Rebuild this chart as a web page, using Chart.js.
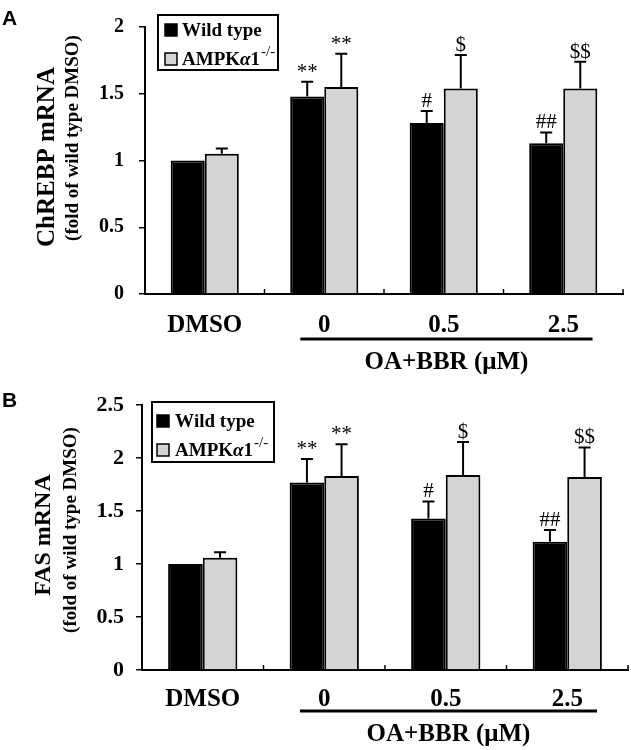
<!DOCTYPE html>
<html>
<head>
<meta charset="utf-8">
<script src="https://cdn.jsdelivr.net/npm/chart.js@4.4.1/dist/chart.umd.min.js"></script>
<style>
  html, body { margin: 0; padding: 0; background: #fff; }
  .panel { position: absolute; left: 0; width: 631px; height: 375px; }
</style>
</head>
<body>
<div class="panel" style="top:0"><canvas id="chartA" width="631" height="375"></canvas></div>
<div class="panel" style="top:375px"><canvas id="chartB" width="631" height="375"></canvas></div>
<script>
const categories = ['DMSO', '0', '0.5', '2.5'];
const groupLabels = ['Wild type', 'AMPKα1'];
const groupSuperscripts = ['', '-/-'];
const groupColors = ['#000000', '#d4d4d4'];

// panel A: ChREBP
const chrebpTicks = [0, 0.5, 1, 1.5, 2];
const chrebpWildType = [1.0, 1.48, 1.28, 1.13];
const chrebpWildTypeErr = [0, 0.11, 0.09, 0.08];
const chrebpKnockout = [1.05, 1.55, 1.54, 1.54];
const chrebpKnockoutErr = [0.04, 0.25, 0.25, 0.2];
const chrebpWildTypeMarks = ['', '**', '#', '##'];
const chrebpKnockoutMarks = ['', '**', '$', '$$'];

// panel B: FAS
const fasTicks = [0, 0.5, 1, 1.5, 2, 2.5];
const fasWildType = [1.0, 1.77, 1.43, 1.21];
const fasWildTypeErr = [0, 0.22, 0.16, 0.11];
const fasKnockout = [1.06, 1.83, 1.84, 1.82];
const fasKnockoutErr = [0.05, 0.3, 0.31, 0.28];
const fasWildTypeMarks = ['', '**', '#', '##'];
const fasKnockoutMarks = ['', '**', '$', '$$'];

const serif = '"Liberation Serif", "Times New Roman", serif';
const sans = '"Liberation Sans", Arial, sans-serif';

// label with greek letters in italic, e.g. AMPKα1
const drawRich = (ctx, text, x, y, size) => {
  let cx = x;
  for (const ch of text) {
    ctx.font = /[α-ω]/.test(ch) ? `italic bold ${size}px ${serif}` : `bold ${size}px ${serif}`;
    ctx.fillText(ch, cx, y);
    cx += ctx.measureText(ch).width;
  }
  return cx;
};

const decor = {
  id: 'decor',
  afterDatasetsDraw(chart, args, o) {
    const { ctx, chartArea, scales: { x, y } } = chart;
    ctx.save();
    ctx.strokeStyle = '#000';
    ctx.fillStyle = '#000';

    // error bars (upper only) and significance marks
    o.errors.forEach((errs, di) => {
      const values = chart.data.datasets[di].data;
      chart.getDatasetMeta(di).data.forEach((bar, i) => {
        const top = y.getPixelForValue(values[i] + errs[i]);
        if (errs[i] > 0) {
          ctx.lineWidth = 2;
          ctx.beginPath();
          ctx.moveTo(bar.x, bar.y);
          ctx.lineTo(bar.x, top);
          ctx.moveTo(bar.x - 6, top);
          ctx.lineTo(bar.x + 6, top);
          ctx.stroke();
        }
        const mark = o.marks[di][i];
        if (mark) {
          ctx.font = `21px ${serif}`;
          ctx.textAlign = 'center';
          ctx.textBaseline = 'alphabetic';
          ctx.fillText(mark, bar.x, top - 4);
        }
      });
    });

    // small inward ticks between categories on the x axis
    const step = x.width / categories.length;
    ctx.lineWidth = 1.5;
    for (let i = 1; i <= categories.length; i++) {
      const tx = x.left + step * i;
      ctx.beginPath();
      ctx.moveTo(tx, chartArea.bottom);
      ctx.lineTo(tx, chartArea.bottom - 5);
      ctx.stroke();
    }
    ctx.restore();
  },
  afterDraw(chart, args, o) {
    const { ctx, chartArea, scales: { x } } = chart;
    ctx.save();
    ctx.fillStyle = '#000';
    ctx.strokeStyle = '#000';

    // panel letter
    ctx.font = `bold 21px ${sans}`;
    ctx.textAlign = 'left';
    ctx.textBaseline = 'alphabetic';
    ctx.fillText(o.letter, 2, o.letterY);

    // y axis titles
    ctx.textAlign = 'center';
    ctx.textBaseline = 'middle';
    ctx.save();
    ctx.translate(o.titleX, o.titleY);
    ctx.rotate(-Math.PI / 2);
    ctx.font = `bold ${o.titleSize}px ${serif}`;
    ctx.fillText(o.title, 0, 0);
    ctx.restore();
    ctx.save();
    ctx.translate(o.subX, o.subY);
    ctx.rotate(-Math.PI / 2);
    ctx.font = `bold 19px ${serif}`;
    ctx.fillText('(fold of wild type DMSO)', 0, 0);
    ctx.restore();

    // OA+BBR group line
    const step = x.width / categories.length;
    const x0 = x.getPixelForValue(1) - 0.2 * step;
    const x1 = x.getPixelForValue(3) + 0.245 * step;
    ctx.lineWidth = 3;
    ctx.beginPath();
    ctx.moveTo(x0, chartArea.bottom + o.lineGap);
    ctx.lineTo(x1, chartArea.bottom + o.lineGap);
    ctx.stroke();
    ctx.font = `bold 25px ${serif}`;
    ctx.fillText('OA+BBR (μM)', (x0 + x1) / 2, chartArea.bottom + o.textGap);

    // legend box
    const [bx, by, bw, bh] = o.legendBox;
    ctx.fillStyle = '#fff';
    ctx.fillRect(bx, by, bw, bh);
    ctx.lineWidth = 2;
    ctx.strokeRect(bx, by, bw, bh);
    ctx.textAlign = 'left';
    ctx.textBaseline = 'alphabetic';
    groupLabels.forEach((label, i) => {
      const base = o.legendRows[i];
      ctx.fillStyle = groupColors[i];
      ctx.fillRect(o.legendSquareX, base - 12, 12, 12);
      ctx.lineWidth = 1.5;
      ctx.strokeRect(o.legendSquareX, base - 12, 12, 12);
      ctx.fillStyle = '#000';
      const end = drawRich(ctx, label, o.legendTextX, base, 19);
      if (groupSuperscripts[i]) {
        ctx.font = `15px ${serif}`;
        ctx.fillText(groupSuperscripts[i], end + 1, base - 9);
      }
    });
    ctx.restore();
  }
};

const buildChart = (canvasId, p) => new Chart(document.getElementById(canvasId), {
  type: 'bar',
  data: {
    labels: categories,
    datasets: [
      { label: groupLabels[0], data: p.wt, backgroundColor: groupColors[0], borderColor: '#000', borderWidth: 2 },
      { label: groupLabels[1], data: p.ko, backgroundColor: groupColors[1], borderColor: '#000', borderWidth: 2 },
    ],
  },
  options: {
    responsive: false,
    animation: false,
    layout: { padding: { top: p.padTop, right: p.padRight, left: 0, bottom: 0 } },
    datasets: { bar: { categoryPercentage: 0.57, barPercentage: 1.0 } },
    plugins: {
      legend: { display: false },
      tooltip: { enabled: false },
      decor: {
        errors: [p.wtErr, p.koErr],
        marks: [p.wtMarks, p.koMarks],
        letter: p.letter, letterY: p.letterY,
        title: p.title, titleSize: p.titleSize,
        titleX: p.titleX, titleY: p.titleY, subX: p.subX, subY: p.subY,
        lineGap: p.lineGap, textGap: p.textGap,
        legendBox: p.legendBox, legendRows: p.legendRows,
        legendSquareX: p.legendSquareX, legendTextX: p.legendTextX,
      },
    },
    scales: {
      x: {
        grid: { display: false },
        border: { display: true, color: '#000', width: 2 },
        ticks: { color: '#000', font: { family: serif, size: 25, weight: 'bold' }, padding: p.xPad },
        afterFit: (s) => { s.height = p.xHeight; },
      },
      y: {
        min: 0,
        max: p.ticks[p.ticks.length - 1],
        afterBuildTicks: (s) => { s.ticks = p.ticks.map((v) => ({ value: v })); },
        grid: { display: true, drawOnChartArea: false, drawTicks: true, tickLength: 6, color: '#000', lineWidth: 1.5 },
        border: { display: true, color: '#000', width: 2 },
        ticks: {
          color: '#000',
          font: { family: serif, size: p.yFont, weight: 'bold' },
          padding: p.yPad,
          callback: (v) => String(v),
        },
        afterFit: (s) => { s.width = p.yWidth; },
      },
    },
  },
  plugins: [decor],
});

buildChart('chartA', {
  ticks: chrebpTicks,
  wt: chrebpWildType, wtErr: chrebpWildTypeErr, wtMarks: chrebpWildTypeMarks,
  ko: chrebpKnockout, koErr: chrebpKnockoutErr, koMarks: chrebpKnockoutMarks,
  padTop: 24, padRight: 8, yWidth: 145, xHeight: 81, yFont: 20, yPad: 15, xPad: 9,
  letter: 'A', letterY: 25,
  title: 'ChREBP mRNA', titleSize: 25, titleX: 48, titleY: 157, subX: 73, subY: 138,
  lineGap: 45, textGap: 69,
  legendBox: [158, 15, 120, 55], legendRows: [36, 65], legendSquareX: 165, legendTextX: 182,
});

buildChart('chartB', {
  ticks: fasTicks,
  wt: fasWildType, wtErr: fasWildTypeErr, wtMarks: fasWildTypeMarks,
  ko: fasKnockout, koErr: fasKnockoutErr, koMarks: fasKnockoutMarks,
  padTop: 30, padRight: 3, yWidth: 142, xHeight: 80, yFont: 22, yPad: 12, xPad: 7,
  letter: 'B', letterY: 32,
  title: 'FAS mRNA', titleSize: 24, titleX: 44, titleY: 160, subX: 71, subY: 155,
  lineGap: 41, textGap: 65,
  legendBox: [152, 27, 122, 60], legendRows: [52, 81], legendSquareX: 157, legendTextX: 175,
});
</script>
</body>
</html>
